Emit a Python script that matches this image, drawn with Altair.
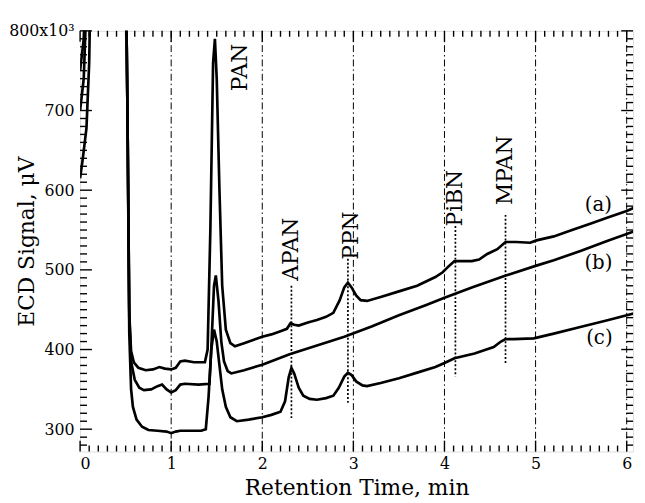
import altair as alt
import pandas as pd

# ---------------- data ----------------
t_a = [0.00, 0.03, 0.07, 0.10, 0.12, 0.50, 0.52, 0.54, 0.56, 0.59, 0.64, 0.72, 0.80, 0.87, 0.93,
       1.00, 1.05, 1.10, 1.15, 1.25, 1.37, 1.40, 1.43, 1.46, 1.48, 1.50, 1.53, 1.56, 1.60, 1.65,
       1.70, 1.80, 1.90, 2.00, 2.10, 2.20, 2.27, 2.31, 2.35, 2.40, 2.50, 2.60, 2.70, 2.78, 2.85,
       2.90, 2.94, 2.98, 3.03, 3.08, 3.15, 3.30, 3.50, 3.70, 3.90, 3.98, 4.05, 4.11, 4.30, 4.38,
       4.47, 4.58, 4.67, 4.79, 4.94, 5.01, 5.20, 5.40, 5.60, 5.80, 6.00, 6.10]
v_a = [615, 640, 678, 760, 900, 900, 700, 440, 398, 384, 377, 374, 375, 378, 376,
       375, 377, 385, 386, 384, 384, 400, 550, 760, 790, 740, 600, 480, 425, 408,
       404, 408, 412, 416, 419, 423, 426, 433, 431, 430, 434, 437, 441, 446, 462,
       478, 484, 478, 468, 462, 461, 466, 473, 480, 491, 497, 505, 511, 511, 513,
       520, 526, 535, 535, 534, 537, 542, 550, 558, 566, 574, 579]

t_b = [0.00, 0.04, 0.08, 0.50, 0.52, 0.54, 0.56, 0.60, 0.65, 0.70, 0.78, 0.85, 0.90, 0.95,
       1.00, 1.05, 1.10, 1.15, 1.30, 1.42, 1.44, 1.47, 1.49, 1.52, 1.55, 1.58, 1.62, 1.66,
       1.80, 2.00, 2.30, 2.60, 2.90, 3.20, 3.50, 3.80, 4.00, 4.30, 4.65, 5.00, 5.20, 5.50,
       5.80, 6.10]
v_b = [750, 790, 900, 900, 700, 450, 385, 362, 352, 349, 350, 354, 356, 350,
       346, 349, 356, 357, 356, 357, 400, 480, 493, 460, 410, 385, 373, 370,
       374, 381, 394, 405, 416, 429, 443, 456, 465, 478, 492, 505, 512, 524,
       537, 549]

t_c = [0.00, 0.04, 0.09, 0.50, 0.52, 0.54, 0.56, 0.58, 0.62, 0.68, 0.75, 0.85, 0.95, 1.00,
       1.05, 1.10, 1.20, 1.33, 1.38, 1.41, 1.44, 1.47, 1.50, 1.53, 1.56, 1.60, 1.65, 1.72,
       1.85, 2.00, 2.10, 2.20, 2.25, 2.29, 2.32, 2.35, 2.40, 2.45, 2.52, 2.60, 2.70, 2.78,
       2.84, 2.90, 2.94, 2.98, 3.03, 3.10, 3.15, 3.30, 3.50, 3.70, 3.90, 4.00, 4.11, 4.33,
       4.54, 4.62, 4.67, 4.76, 4.98, 5.20, 5.48, 5.80, 6.10]
v_c = [700, 740, 900, 900, 700, 420, 350, 328, 312, 303, 299, 298, 297, 295,
       297, 298, 298, 298, 300, 340, 400, 425, 410, 380, 350, 328, 315, 310,
       312, 315, 318, 322, 335, 365, 377, 370, 352, 342, 338, 337, 339, 342,
       352, 366, 371, 368, 360, 355, 354, 358, 364, 371, 378, 383, 389, 395,
       403, 410, 413, 413, 414, 420, 428, 437, 446]

series_names = ["(a)", "(b)", "(c)"]
series_label_t = [5.69, 5.69, 5.70]
series_label_v = [581, 508, 414]

peak_names = ["PAN", "APAN", "PPN", "PiBN", "MPAN"]
peak_label_t = [1.76, 2.32, 2.97, 4.12, 4.66]
peak_label_v = [754, 526, 543, 590, 625]

marker_t = [2.32, 2.94, 4.12, 4.67]
marker_top = [480, 514, 555, 569]
marker_bottom = [312, 333, 366, 381]

grid_t = [1, 2, 3, 4, 5, 6]
x_tick_values = [0, 1, 2, 3, 4, 5, 6]
y_tick_values = [300, 400, 500, 600, 700, 800]

X_DOMAIN = [0, 6.07]
Y_DOMAIN = [272, 800]
W, H = 560, 426
FONT = "DejaVu Serif"

# ---------------- tables ----------------
traces = pd.concat([
    pd.DataFrame({"series": "a", "t": t_a, "v": v_a}),
    pd.DataFrame({"series": "b", "t": t_b, "v": v_b}),
    pd.DataFrame({"series": "c", "t": t_c, "v": v_c}),
], ignore_index=True)

series_df = pd.DataFrame({"name": series_names, "t": series_label_t, "v": series_label_v})
peaks_df = pd.DataFrame({"name": peak_names, "t": peak_label_t, "v": peak_label_v})
markers_df = pd.DataFrame({"t": marker_t, "v": marker_top, "v2": marker_bottom})
grid_df = pd.DataFrame({"t": grid_t})

x_minor = [round(i * 0.1, 1) for i in range(0, 61) if i % 10 != 0]
x_major = [float(v) for v in x_tick_values]
y_minor = [v for v in range(280, 801, 10) if v % 100 != 0]
y_major = [v for v in range(300, 801, 100)]
xmin_df = pd.DataFrame({"t": x_minor})
xmaj_df = pd.DataFrame({"t": x_major})
ymin_df = pd.DataFrame({"v": y_minor})
ymaj_df = pd.DataFrame({"v": y_major})

xs = alt.Scale(domain=X_DOMAIN, nice=False, zero=False)
ys = alt.Scale(domain=Y_DOMAIN, nice=False, zero=False)

x_axis = alt.Axis(values=x_tick_values, format="d", ticks=False, domain=False, grid=False,
                  labelPadding=4, labelFont=FONT, labelFontSize=16, labelColor="black",
                  title="Retention Time, min", titleFont=FONT, titleFontSize=22,
                  titleFontWeight="normal", titleColor="black",
                  titleX=W / 2, titleY=44, titleBaseline="alphabetic", titleAlign="center")
y_axis = alt.Axis(values=y_tick_values, ticks=False, domain=False, grid=False,
                  labelPadding=6, labelFont=FONT, labelFontSize=16, labelColor="black",
                  labelExpr="datum.value == 800 ? '800x10\u00b3' : datum.label",
                  title="ECD Signal, \u03bcV", titleFont=FONT, titleFontSize=22,
                  titleFontWeight="normal", titleColor="black",
                  titleX=-54, titleY=H / 2, titleAngle=270, titleBaseline="middle",
                  titleAlign="center")

X = lambda f: alt.X(f, scale=xs, axis=x_axis)
Y = lambda f: alt.Y(f, scale=ys, axis=y_axis)

lines = alt.Chart(traces).mark_line(color="black", strokeWidth=2.7, clip=True).encode(
    x=X("t:Q"), y=Y("v:Q"), detail="series:N",
)

grid = alt.Chart(grid_df).mark_rule(color="black", strokeWidth=1, strokeDash=[7, 3, 1.5, 3]).encode(
    x=X("t:Q"),
)

markers = alt.Chart(markers_df).mark_rule(color="black", strokeWidth=1.7, strokeDash=[2, 2]).encode(
    x=X("t:Q"), y=Y("v:Q"), y2="v2:Q",
)

def xticks(df, length, top):
    y0, y1 = (0, length) if top else (H, H - length)
    return alt.Chart(df).mark_rule(color="black", strokeWidth=1.4).encode(
        x=X("t:Q"), y=alt.value(y0), y2=alt.value(y1))

def yticks(df, length, right):
    x0, x1 = (W, W - length) if right else (0, length)
    return alt.Chart(df).mark_rule(color="black", strokeWidth=1.4).encode(
        y=Y("v:Q"), x=alt.value(x0), x2=alt.value(x1))

ticks = [
    xticks(xmin_df, 6, False), xticks(xmaj_df, 11, False),
    xticks(xmin_df, 6, True), xticks(xmaj_df, 11, True),
    yticks(ymin_df, 7, False), yticks(ymaj_df, 12, False),
    yticks(ymin_df, 7, True), yticks(ymaj_df, 12, True),
]

peak_text = alt.Chart(peaks_df).mark_text(font=FONT, fontSize=22, angle=270, align="center",
                                          baseline="middle", color="black").encode(
    x=X("t:Q"), y=Y("v:Q"), text="name:N",
)

series_text = alt.Chart(series_df).mark_text(font=FONT, fontSize=20, align="center",
                                             baseline="middle", color="black").encode(
    x=X("t:Q"), y=Y("v:Q"), text="name:N",
)

chart = alt.layer(lines, grid, markers, *ticks, peak_text, series_text).properties(
    width=W, height=H,
    autosize=alt.AutoSizeParams(type="none"),
    padding={"left": 73, "top": 20, "right": 4, "bottom": 48},
).configure_view(stroke="black", strokeWidth=3).configure(background="white")

chart.save("out.html", embed_options={"renderer": "svg", "actions": False})
